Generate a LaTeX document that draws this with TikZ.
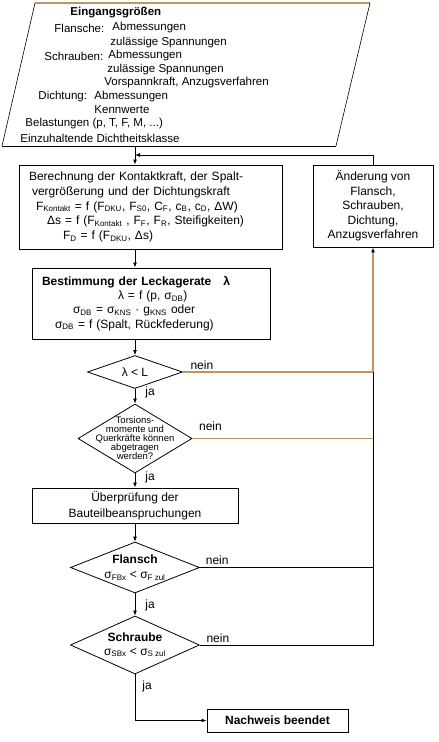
\documentclass[tikz,border=0pt]{standalone}
\usepackage{fontspec}
\setmainfont{Liberation Sans}
\usetikzlibrary{shapes.geometric,arrows.meta}
\definecolor{tanline}{RGB}{190,150,100}
\newcommand{\ix}[1]{\textsubscript{#1}}

\begin{document}
\begin{tikzpicture}[x=1pt,y=-1pt,line width=0.9pt,
    >={Latex[length=5pt,width=4pt]},
    font=\fontsize{12}{14.8}\selectfont,
    box/.style={draw,rectangle,inner sep=0pt},
    decision/.style={draw,diamond,inner sep=0pt,line width=0.8pt},
    intext/.style={anchor=west,inner sep=0pt,font=\fontsize{11.5}{14}\selectfont},
    small/.style={align=center,inner sep=0pt,font=\fontsize{9.5}{9}\selectfont},
    jalbl/.style={anchor=west,xshift=9pt,inner sep=1pt},
    neinlbl/.style={above,inner sep=2pt,black},
    tanpath/.style={tanline,line width=1.3pt}]
  \useasboundingbox (0,0) rectangle (439,742);
  % input (parallelogram)
  \coordinate (tl) at (35,3);
  \coordinate (tr) at (370,3);
  \coordinate (br) at (336,146);
  \coordinate (bl) at (2,146);
  \draw[tanpath,line width=1.5pt] (tl) -- (tr);
  \draw[line width=0.6pt] (tr) -- (br);
  \draw (br) -- (bl);
  \draw[line width=0.6pt] (bl) -- (tl);
  \foreach \i/\px/\py/\txt in {1/70/13/{\textbf{Eingangsgrößen}},
      2/54/28/{Flansche:}, 3/112/28/{Abmessungen},
      4/110/43/{zulässige Spannungen},
      5/44/56/{Schrauben:}, 6/108/56/{Abmessungen},
      7/107/70/{zulässige Spannungen},
      8/104/83/{Vorspannkraft, Anzugsverfahren},
      9/38/97/{Dichtung:}, 10/94/97/{Abmessungen},
      11/94/110/{Kennwerte},
      12/25/124/{Belastungen (p, T, F, M, ...)},
      13/20/138/{Einzuhaltende Dichtheitsklasse}}
    \node[intext] (in\i) at (\px,\py) {\txt};
  \coordinate (inbot) at (135,146);
  % boxes
  \node[box,minimum width=263pt,minimum height=84pt,text width=243pt,align=left] (kraft) at (150.5,207)
    {Berechnung der Kontaktkraft, der Spalt-\\
     \hspace*{3pt}vergrößerung und der Dichtungskraft\\
     \hspace*{7pt}F\ix{Kontakt} = f (F\ix{DKU}, F\ix{S0}, C\ix{F}, c\ix{B}, c\ix{D}, ΔW)\\
     \hspace*{18pt}Δs = f (F\ix{Kontakt} , F\ix{F}, F\ix{R}, Steifigkeiten)\\
     \hspace*{34pt}F\ix{D} = f (F\ix{DKU}, Δs)};
  \node[box,minimum width=238pt,minimum height=71pt,text width=218pt,align=left,
    font=\fontsize{12}{14.2}\selectfont] (leck) at (151,303.5)
    {\textbf{Bestimmung der Leckagerate\hspace{12pt}λ}\\
     \hspace*{76pt}λ = f (p, σ\ix{DB})\\
     \hspace*{31pt}σ\ix{DB} = σ\ix{KNS} · g\ix{KNS} oder\\
     \hspace*{13pt}σ\ix{DB} = f (Spalt, Rückfederung)};
  \node[box,minimum width=120pt,minimum height=82pt,align=center,
    font=\fontsize{12}{14.5}\selectfont] (aend) at (373,206)
    {Änderung von\\Flansch,\\Schrauben,\\Dichtung,\\Anzugsverfahren};
  \node[decision,minimum width=95pt,minimum height=33pt,label={center:λ < L}] (lam) at (135,372) {};
  \node[decision,minimum width=114pt,minimum height=69pt,
    label={[small]center:Torsions-\\momente und\\Querkräfte können\\abgetragen\\werden?}] (tors) at (135,438.5) {};
  \node[box,minimum width=206pt,minimum height=35pt,align=center,
    font=\fontsize{12}{16}\selectfont] (pruef) at (135,505.5)
    {Überprüfung der\\Bauteilbeanspruchungen};
  \node[decision,minimum width=129pt,minimum height=51pt,
    label={[align=center,font=\fontsize{12}{15}\selectfont]center:\textbf{Flansch}\\σ\ix{FBx} < σ\ix{F zul}}] (flansch) at (135,567.5) {};
  \node[decision,minimum width=129pt,minimum height=58pt,
    label={[align=center,font=\fontsize{12}{13.5}\selectfont]center:\textbf{Schraube}\\σ\ix{SBx} < σ\ix{S zul}}] (schraube) at (135,645) {};
  \node[box,minimum width=141pt,minimum height=23pt] (ende) at (277.5,720.5) {\textbf{Nachweis beendet}};
  % main flow
  \draw[->] (inbot) -- (inbot |- kraft.north);
  \draw[->] (inbot |- kraft.south) -- (inbot |- leck.north);
  \draw[->] (inbot |- leck.south) -- (lam.north);
  \draw[->] (lam.south) -- (tors.north) node[pos=.27,jalbl] (ja1) {ja};
  \draw[->] (tors.south) -- (pruef.north) node[pos=.27,jalbl] (ja2) {ja};
  \draw[->] (pruef.south) -- (flansch.north);
  \draw[->] (flansch.south) -- (schraube.north) node[pos=.52,jalbl] (ja3) {ja};
  \draw[->] (schraube.south) |- (ende.west) node[pos=.13,jalbl,xshift=-3pt] (ja4) {ja};
  % feedback loop
  \coordinate (back) at (135,155);
  \coordinate (rj) at (373,372);
  \draw[->] (aend.north) |- (back);
  \draw[tanpath,-{Latex[color=black,length=5pt,width=4pt]}] (rj) -- (aend.south);
  \draw[tanpath] (lam.east) -- (rj) node[pos=.1,neinlbl] (nein1) {nein};
  \draw[tanpath] (tors.east) -- (tors.east -| rj) node[pos=.1,neinlbl,yshift=5pt] (nein2) {nein};
  \draw (flansch.east) -- (flansch.east -| rj) node[pos=.1,neinlbl] (nein3) {nein};
  \draw (schraube.east) -| (rj) node[pos=.052,neinlbl] (nein4) {nein};
\end{tikzpicture}
\end{document}
